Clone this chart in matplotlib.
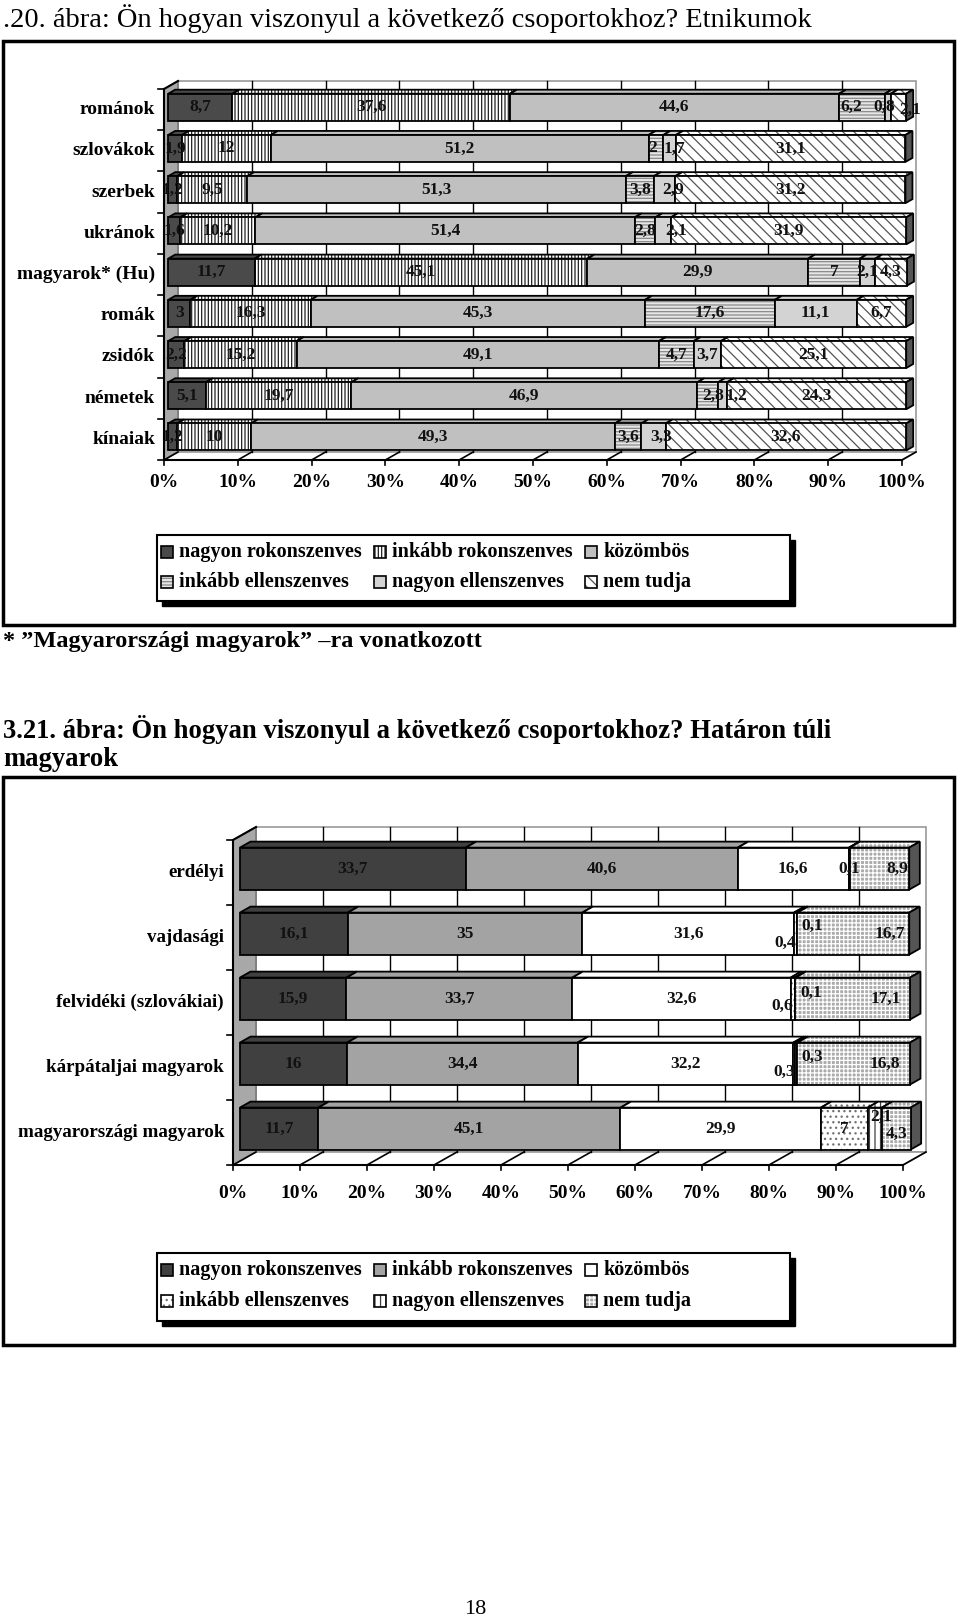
import matplotlib
matplotlib.use('Agg')
import matplotlib.pyplot as plt
from matplotlib.patches import Polygon, Rectangle

plt.rcParams['font.family'] = ['Liberation Serif', 'DejaVu Serif']
plt.rcParams['font.weight'] = 'bold'
plt.rcParams['hatch.linewidth'] = 0.9

W, H = 960, 1620

# ---- data -------------------------------------------------------------
series = ['nagyon rokonszenves', 'inkább rokonszenves', 'közömbös',
          'inkább ellenszenves', 'nagyon ellenszenves', 'nem tudja']

etn_groups = ['románok', 'szlovákok', 'szerbek', 'ukránok', 'magyarok* (Hu)',
              'romák', 'zsidók', 'németek', 'kínaiak']
etn_nagyon_rok = [8.7, 1.9, 1.2, 1.6, 11.7, 3, 2.2, 5.1, 1.2]
etn_inkabb_rok = [37.6, 12, 9.5, 10.2, 45.1, 16.3, 15.2, 19.7, 10]
etn_kozombos = [44.6, 51.2, 51.3, 51.4, 29.9, 45.3, 49.1, 46.9, 49.3]
etn_inkabb_ell = [6.2, 2, 3.8, 2.8, 7, 17.6, 4.7, 2.8, 3.6]
etn_nagyon_ell = [0.8, 1.7, 2.9, 2.1, 2.1, 11.1, 3.7, 1.2, 3.3]
etn_nem_tudja = [2.1, 31.1, 31.2, 31.9, 4.3, 6.7, 25.1, 24.3, 32.6]

hat_groups = ['erdélyi', 'vajdasági', 'felvidéki (szlovákiai)',
              'kárpátaljai magyarok', 'magyarországi magyarok']
hat_nagyon_rok = [33.7, 16.1, 15.9, 16, 11.7]
hat_inkabb_rok = [40.6, 35, 33.7, 34.4, 45.1]
hat_kozombos = [16.6, 31.6, 32.6, 32.2, 29.9]
hat_inkabb_ell = [0, 0.4, 0.6, 0.3, 7]
hat_nagyon_ell = [0.1, 0.1, 0.1, 0.3, 2.1]
hat_nem_tudja = [8.9, 16.7, 17.1, 16.8, 4.3]

x_ticks = [0, 10, 20, 30, 40, 50, 60, 70, 80, 90, 100]

# ---- styles -----------------------------------------------------------
etn_styles = [
    dict(fc='#4a4a4a'),
    dict(fc='white', hatch='|||||', hc='#202020'),
    dict(fc='#c0c0c0'),
    dict(fc='#e6e6e6', hatch='-----', hc='#8a8a8a'),
    dict(fc='#d3d3d3'),
    dict(fc='white', hatch='\\\\\\', hc='#555555'),
]
hat_styles = [
    dict(fc='#404040'),
    dict(fc='#a3a3a3'),
    dict(fc='white'),
    dict(fc='white', hatch='...', hc='#707070'),
    dict(fc='white', hatch='|||', hc='#404040'),
    dict(fc='#ababab', hatch='++++', hc='white'),
]

# label nudges in pixels (dx, dy) keyed by (row, series)
etn_nudge = {(0, 3): (-11, 0), (0, 4): (-4, 0), (0, 5): (12, 3),
             (1, 3): (-3, 0), (1, 4): (5, 0),
             (2, 4): (9, 0), (3, 4): (13, 0),
             (7, 3): (6, 0), (7, 4): (14, 0), (8, 4): (8, 0)}
hat_nudge = {(0, 5): (18, 0),
             (1, 3): (-10, 9), (1, 4): (15, -8), (1, 5): (36, 0),
             (2, 3): (-10, 7), (2, 4): (16, -6), (2, 5): (33, 0),
             (3, 3): (-10, 8), (3, 4): (16, -7), (3, 5): (31, 0),
             (4, 4): (6, -12), (4, 5): (0, 5)}


def fmt(v):
    return ('%g' % v).replace('.', ',')


def face(ax, pts, style, z, lw=1.3):
    ax.add_patch(Polygon(pts, closed=True, fc=style['fc'], ec='none', lw=0,
                         zorder=z, clip_on=False))
    if style.get('hatch'):
        ax.add_patch(Polygon(pts, closed=True, fc='none', ec=style['hc'], lw=0,
                             hatch=style['hatch'], zorder=z, clip_on=False))
    ax.add_patch(Polygon(pts, closed=True, fc='none', ec='black', lw=lw,
                         zorder=z, clip_on=False, joinstyle='miter'))


def draw_chart(fig, box, groups, columns, styles, depth, bar_d, bar_h, nudges,
               tick_gap, label_fs):
    left, top, right, bottom = box
    ax = fig.add_axes([left / W, 1 - bottom / H, (right - left) / W, (bottom - top) / H])
    n = len(groups)
    ax.set_xlim(0, 100)
    ax.set_ylim(n - 0.5, -0.5)
    ax.axis('off')
    xs = 100 / (right - left)
    ys = n / (bottom - top)
    ddx, ddy = depth

    def P(x, y, d):
        return (x + d * ddx * xs, y - d * ddy * ys)

    y0, y1 = -0.5, n - 0.5
    # walls and floor
    ax.add_patch(Polygon([P(0, y0, 1), P(100, y0, 1), P(100, y1, 1), P(0, y1, 1)],
                         fc='white', ec='#9a9a9a', lw=1.2, zorder=1, clip_on=False))
    ax.add_patch(Polygon([P(0, y0, 0), P(0, y0, 1), P(0, y1, 1), P(0, y1, 0)],
                         fc='#a8a8a8', ec='#707070', lw=1, zorder=1, clip_on=False))
    ax.add_patch(Polygon([P(0, y1, 0), P(100, y1, 0), P(100, y1, 1), P(0, y1, 1)],
                         fc='white', ec='#9a9a9a', lw=1.2, zorder=1, clip_on=False))
    for t in x_ticks[1:-1]:
        ax.plot(*zip(P(t, y0, 1), P(t, y1, 1)), color='black', lw=1, zorder=2,
                clip_on=False)
    for t in x_ticks:
        ax.plot(*zip(P(t, y1, 0), P(t, y1, 1)), color='black', lw=1.2, zorder=2,
                clip_on=False)
        ax.plot([t, t], [y1, y1 + 5 * ys], color='black', lw=1.2, zorder=2, clip_on=False)
        ax.text(t, y1 + tick_gap * ys, f'{t}%', ha='center', va='center',
                fontsize=14, zorder=5)
    ax.plot([0, 100], [y1, y1], color='black', lw=1.5, zorder=2, clip_on=False)
    ax.plot([0, 0], [y0, y1], color='black', lw=1.5, zorder=2, clip_on=False)
    ax.plot(*zip(P(0, y0, 0), P(0, y0, 1)), color='black', lw=1.5, zorder=2, clip_on=False)
    for k in range(n + 1):
        ax.plot([0, -6 * xs], [k - 0.5, k - 0.5], color='black', lw=1.2, zorder=2,
                clip_on=False)

    d0, d1 = bar_d
    for i, g in enumerate(groups):
        ax.text(-9 * xs, i, g, ha='right', va='center', fontsize=label_fs, zorder=5)
        yt, yb = i - bar_h / 2, i + bar_h / 2
        cum = 0
        for j, col in enumerate(columns):
            v = col[i]
            if v <= 0:
                continue
            a, b = cum, cum + v
            face(ax, [P(a, yt, d0), P(b, yt, d0), P(b, yt, d1), P(a, yt, d1)], styles[j], 3)
            face(ax, [P(a, yt, d0), P(b, yt, d0), P(b, yb, d0), P(a, yb, d0)], styles[j], 4)
            cum = b
        face(ax, [P(cum, yt, d0), P(cum, yt, d1), P(cum, yb, d1), P(cum, yb, d0)],
             dict(fc='#555555'), 3)
        cum = 0
        for j, col in enumerate(columns):
            v = col[i]
            if v <= 0:
                continue
            cx, cy = P(cum + v / 2, i, d0)
            dx, dy = nudges.get((i, j), (0, 0))
            ax.text(cx + dx * xs, cy + dy * ys, fmt(v), ha='center', va='center',
                    fontsize=12.5, color='#111111', zorder=10)
            cum += v
    return ax


def draw_legend(page, box, styles, rows_y, cols_x):
    x0, y0, x1, y1 = box
    page.add_patch(Rectangle((x0 + 5, y0 + 5), x1 - x0, y1 - y0, fc='black', ec='black',
                             lw=1, zorder=1))
    page.add_patch(Rectangle((x0, y0), x1 - x0, y1 - y0, fc='white', ec='black',
                             lw=1.5, zorder=2))
    for j, name in enumerate(series):
        r, c = divmod(j, 3)
        mx, my = cols_x[c], rows_y[r]
        face(page, [(mx, my - 6), (mx + 12, my - 6), (mx + 12, my + 6), (mx, my + 6)],
             styles[j], 3, lw=1.2)
        page.text(mx + 18, my, name, ha='left', va='center', fontsize=14.5, zorder=4)


fig = plt.figure(figsize=(W / 100, H / 100), dpi=100)
page = fig.add_axes([0, 0, 1, 1])
page.set_xlim(0, W)
page.set_ylim(H, 0)
page.axis('off')

page.text(3, 19, '.20. ábra: Ön hogyan viszonyul a következő csoportokhoz? Etnikumok',
          ha='left', va='center', fontsize=20.5, fontweight='normal')
page.add_patch(Rectangle((3, 41), 951, 584, fill=False, ec='black', lw=2.5))
page.text(3, 642, '* \u201dMagyarországi magyarok\u201d \u2013ra vonatkozott',
          ha='left', va='center', fontsize=17.5)
page.text(3, 730, '3.21. ábra: Ön hogyan viszonyul a következő csoportokhoz? Határon túli',
          ha='left', va='center', fontsize=19.2)
page.text(3, 760, 'magyarok', ha='left', va='center', fontsize=19.2)
page.add_patch(Rectangle((3, 777), 951, 568, fill=False, ec='black', lw=2.5))
page.text(475, 1609, '18', ha='center', va='center', fontsize=16, fontweight='normal')

draw_chart(fig, (164, 89, 902, 460), etn_groups,
           [etn_nagyon_rok, etn_inkabb_rok, etn_kozombos, etn_inkabb_ell,
            etn_nagyon_ell, etn_nem_tudja],
           etn_styles, depth=(14, 8), bar_d=(0.3, 0.8), bar_h=0.655,
           nudges=etn_nudge, tick_gap=23, label_fs=14)
draw_legend(page, (157, 535, 790, 601), etn_styles, (552, 582), (161, 374, 585))

draw_chart(fig, (233, 840, 903, 1165), hat_groups,
           [hat_nagyon_rok, hat_inkabb_rok, hat_kozombos, hat_inkabb_ell,
            hat_nagyon_ell, hat_nem_tudja],
           hat_styles, depth=(23, 13), bar_d=(0.3, 0.76), bar_h=0.646,
           nudges=hat_nudge, tick_gap=28, label_fs=13.7)
draw_legend(page, (157, 1253, 790, 1321), hat_styles, (1270, 1301), (161, 374, 585))

fig.savefig('out.png', dpi=100)
